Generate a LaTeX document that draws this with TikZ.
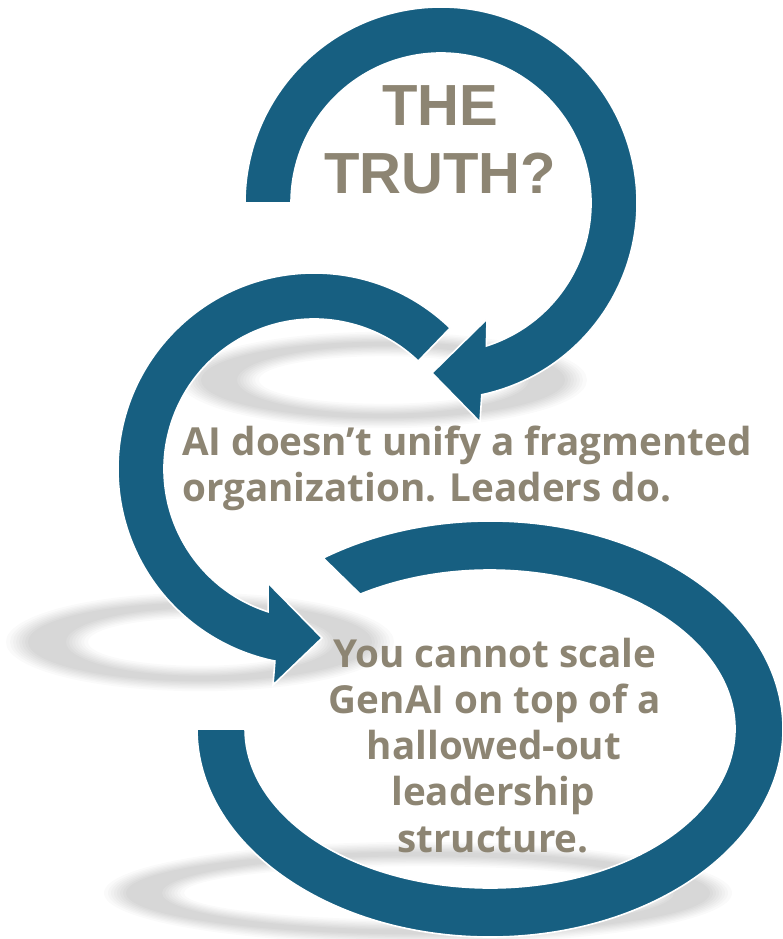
\documentclass[tikz,border=0pt]{standalone}
\usepackage{fontspec}
\setmainfont{Liberation Sans}
\newfontfamily\bodyfont{Open Sans}
\usetikzlibrary{calc}
\definecolor{ringblue}{RGB}{23,95,129}
\definecolor{txtgray}{RGB}{141,133,115}
\tikzset{
  ringarrow/.style={fill=ringblue, draw=white, line width=1.6pt, line join=miter},
  softshade/.style={fill=black, fill opacity=0.019, even odd rule, draw=none},
  titletext/.style={text=txtgray, font={\fontsize{58}{68}\selectfont\bfseries}, inner sep=0pt, anchor=base},
  bodytext/.style={text=txtgray, font={\bodyfont\fontsize{38.6}{46}\selectfont\bfseries}, inner sep=0pt},
}
\newcommand\softring[6]{% cx cy a b ai bi
  \foreach \e in {16,12,9,6,3,0,-3,-6}{
    \path[softshade] (#1,#2) ellipse ({#3+\e} and {#4+\e*0.45})
                     (#1,#2) ellipse ({#5-\e} and {#6-\e*0.45});
  }
}
\begin{document}
\begin{tikzpicture}[x=1pt,y=-1pt]
\useasboundingbox (0,0) rectangle (782,939);
\fill[white] (0,0) rectangle (782,939);

% soft shadows
\softring{383}{380}{188}{41}{140}{31}
\softring{200}{642}{178}{42}{128}{31}
\softring{418}{893}{298}{44}{250}{34}

% centres
\coordinate (c1) at (441,203);
\coordinate (c2) at (314,469);
\coordinate (c3) at (490,729);

% arrow 1 (top)
\coordinate (h1a) at (480,422);
\coordinate (h1t) at (432,373);
\coordinate (h1b) at (487,319);
\path[ringarrow] ([shift={(c1)}]180:196) arc[start angle=180, end angle=438, radius=196]
  -- (h1a) -- (h1t) -- (h1b)
  -- ([shift={(c1)}]72.4:150) arc[start angle=432.4, end angle=180, radius=150] -- cycle;

% arrow 2 (middle)
\coordinate (h2a) at (273,685);
\coordinate (h2t) at (322,638);
\coordinate (h2b) at (268,583);
\path[ringarrow] ([shift={(c2)}]-46:196) arc[start angle=-46, end angle=-258.5, radius=196]
  -- (h2a) -- (h2t) -- (h2b)
  -- ([shift={(c2)}]-252.2:150) arc[start angle=-252.2, end angle=-46, radius=150] -- cycle;

% arrow 3 (bottom, elliptical)
\path[ringarrow] ([shift={(c3)}]180:293 and 208) arc[start angle=180, end angle=-124.7, x radius=293, y radius=208]
  -- ([shift={(c3)}]-122:245 and 159) arc[start angle=-122, end angle=180, x radius=245, y radius=159] -- cycle;

% texts
\node[titletext] (the) at (440,125) {THE};
\node[titletext] (truth) at (440,193) {TRUTH?};

\node[bodytext, anchor=base west] (m1) at (182,455) {AI doesn’t unify a fragmented};
\node[bodytext, anchor=base west] (m2) at (182,501) {organization. Leaders do.};

\node[bodytext, anchor=base] (b1) at (495,667) {You cannot scale};
\node[bodytext, anchor=base] (b2) at (495,713) {GenAI on top of a};
\node[bodytext, anchor=base] (b3) at (494,759) {hallowed-out};
\node[bodytext, anchor=base] (b4) at (493,805) {leadership};
\node[bodytext, anchor=base] (b5) at (493,852) {structure.};
\end{tikzpicture}
\end{document}
